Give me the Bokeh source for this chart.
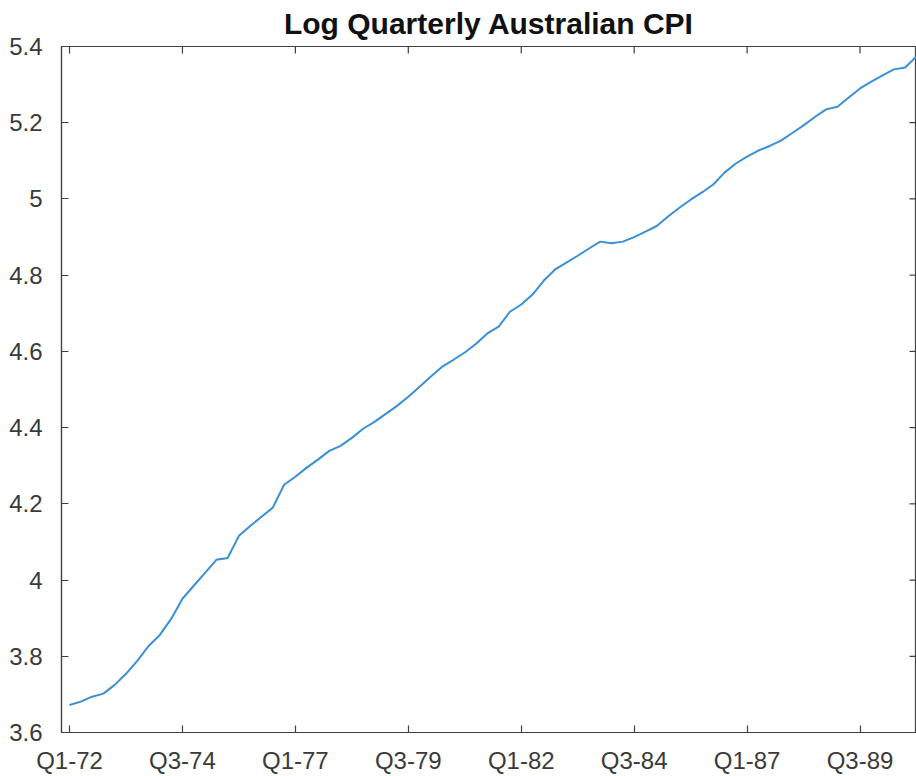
import math
from bokeh.plotting import figure
from bokeh.models import FixedTicker, LinearAxis, Range1d
from bokeh.embed import file_html
from bokeh.resources import INLINE

# Quarter index (1 = Q1-72 ... 76 = Q4-90)
quarter_index = list(range(1, 77))
log_cpi = [
    3.672, 3.681, 3.694, 3.702, 3.725, 3.754, 3.788, 3.827, 3.856, 3.898,
    3.951, 3.985, 4.019, 4.053, 4.058, 4.116, 4.142, 4.166, 4.190, 4.250,
    4.271, 4.295, 4.316, 4.339, 4.352, 4.373, 4.397, 4.415, 4.436, 4.457,
    4.481, 4.507, 4.534, 4.560, 4.578, 4.597, 4.620, 4.647, 4.665, 4.704,
    4.723, 4.749, 4.786, 4.815, 4.833, 4.851, 4.870, 4.888, 4.884, 4.888,
    4.900, 4.914, 4.929, 4.954, 4.977, 4.998, 5.017, 5.038, 5.069, 5.093,
    5.111, 5.127, 5.139, 5.153, 5.173, 5.193, 5.215, 5.235, 5.242, 5.266,
    5.290, 5.308, 5.324, 5.340, 5.345, 5.374,
]

x_tick_positions = [1, 11, 21, 31, 41, 51, 61, 71]
x_tick_labels = ["Q1-72", "Q3-74", "Q1-77", "Q3-79", "Q1-82", "Q3-84", "Q1-87", "Q3-89"]
y_tick_values = [3.6, 3.8, 4.0, 4.2, 4.4, 4.6, 4.8, 5.0, 5.2, 5.4]
y_tick_labels = ["3.6", "3.8", "4", "4.2", "4.4", "4.6", "4.8", "5", "5.2", "5.4"]

X_START, X_END = 0.29, 76
Y_START, Y_END = 3.6, 5.4

FONT = "Liberation Sans"
AX = "#404040"
TXT = "#3a3a3a"

p = figure(
    width=916, height=776,
    output_backend="svg", toolbar_location=None,
    x_range=Range1d(X_START, X_END), y_range=Range1d(Y_START, Y_END),
    min_border_left=61, min_border_right=0,
    min_border_top=46, min_border_bottom=44,
    x_axis_type=None, y_axis_type=None,
)
p.title.text = "Log Quarterly Australian CPI"
p.title.align = "center"
p.title.vertical_align = "top"
p.title.text_font = FONT
p.title.text_font_size = "30px"
p.title.text_font_style = "bold"
p.title.text_color = "#111111"

p.xgrid.visible = False
p.ygrid.visible = False
p.outline_line_color = AX
p.outline_line_width = 1.2
p.background_fill_color = "white"
p.border_fill_color = "white"

def style_axis(ax):
    ax.axis_line_color = AX
    ax.axis_line_width = 1.2
    ax.major_tick_line_color = AX
    ax.major_tick_line_width = 1.2
    ax.major_tick_in = 7
    ax.major_tick_out = 0
    ax.minor_tick_line_color = None
    ax.major_label_text_font = FONT
    ax.major_label_text_font_size = "24px"
    ax.major_label_text_color = TXT

x_over = {pos: lab for pos, lab in zip(x_tick_positions, x_tick_labels)}
y_over = {val: lab for val, lab in zip(y_tick_values, y_tick_labels)}

xb = LinearAxis(ticker=FixedTicker(ticks=x_tick_positions), major_label_overrides=x_over)
style_axis(xb)
xb.major_label_standoff = 14
p.add_layout(xb, "below")

yl = LinearAxis(ticker=FixedTicker(ticks=y_tick_values), major_label_overrides=y_over)
style_axis(yl)
yl.major_label_standoff = 19
p.add_layout(yl, "left")

# box ticks on top and right edges (inside half of a dash clipped by the frame)
p.scatter(x_tick_positions, [Y_END] * len(x_tick_positions), marker="dash",
          size=14, angle=math.pi / 2, line_color=AX, line_width=1.2)
p.scatter([X_END] * len(y_tick_values), y_tick_values, marker="dash",
          size=14, angle=0, line_color=AX, line_width=1.2)

p.line(quarter_index, log_cpi, line_color="#3b8fd4", line_width=2)

open("out.html", "w").write(file_html(p, INLINE))
